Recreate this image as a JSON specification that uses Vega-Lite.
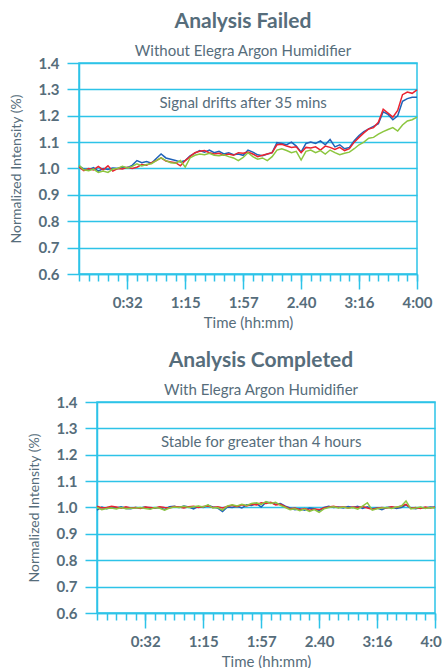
{
  "$schema": "https://vega.github.io/schema/vega-lite/v6.json",
  "padding": {"left": 7, "top": 10, "right": 0, "bottom": 0},
  "background": "white",
  "config": {
    "font": "Lato",
    "view": {"stroke": "#2dc3e8", "strokeWidth": 1.5},
    "title": {"fontSize": 21, "fontWeight": "bold", "color": "#566d7b", "subtitleFontSize": 15, "subtitleColor": "#566d7b", "subtitlePadding": 12, "offset": -3, "anchor": "middle", "dx": -5},
    "axisY": {"values": [0.6,0.7,0.8,0.9,1.0,1.1,1.2,1.3,1.4], "format": ".1f", "grid": true, "gridColor": "#2dc3e8", "gridWidth": 1.5, "tickSize": 12, "tickColor": "#2dc3e8", "tickWidth": 1.5, "domainColor": "#2dc3e8", "domainWidth": 1.5, "labelFontSize": 15, "labelFontWeight": "bold", "labelColor": "#566d7b", "labelPadding": 8, "titleFontSize": 14, "titleFontWeight": "normal", "titleColor": "#566d7b", "titlePadding": 15}
  },
  "datasets": {
    "top": [
      {"t":0,"blue":1.010,"red":1.005,"green":1.012},
      {"t":0.5,"blue":0.998,"red":0.992,"green":0.995},
      {"t":1,"blue":0.995,"red":1.000,"green":0.992},
      {"t":1.5,"blue":1.003,"red":0.995,"green":0.998},
      {"t":2,"blue":0.990,"red":1.008,"green":0.985},
      {"t":2.5,"blue":1.000,"red":0.995,"green":0.990},
      {"t":3,"blue":0.996,"red":1.010,"green":0.985},
      {"t":3.5,"blue":1.002,"red":0.990,"green":0.998},
      {"t":4,"blue":1.000,"red":1.000,"green":1.000},
      {"t":4.5,"blue":1.006,"red":0.998,"green":1.008},
      {"t":5,"blue":1.003,"red":1.005,"green":1.002},
      {"t":5.5,"blue":1.012,"red":1.000,"green":1.008},
      {"t":6,"blue":1.030,"red":1.005,"green":1.018},
      {"t":6.5,"blue":1.022,"red":1.015,"green":1.010},
      {"t":7,"blue":1.026,"red":1.012,"green":1.015},
      {"t":7.5,"blue":1.020,"red":1.022,"green":1.018},
      {"t":8,"blue":1.038,"red":1.030,"green":1.030},
      {"t":8.5,"blue":1.055,"red":1.040,"green":1.040},
      {"t":9,"blue":1.040,"red":1.028,"green":1.030},
      {"t":9.5,"blue":1.035,"red":1.025,"green":1.022},
      {"t":10,"blue":1.030,"red":1.022,"green":1.020},
      {"t":10.5,"blue":1.025,"red":1.010,"green":1.030},
      {"t":11,"blue":1.030,"red":1.030,"green":1.005},
      {"t":11.5,"blue":1.048,"red":1.045,"green":1.040},
      {"t":12,"blue":1.058,"red":1.060,"green":1.050},
      {"t":12.5,"blue":1.068,"red":1.065,"green":1.055},
      {"t":13,"blue":1.062,"red":1.068,"green":1.052},
      {"t":13.5,"blue":1.070,"red":1.060,"green":1.058},
      {"t":14,"blue":1.060,"red":1.055,"green":1.050},
      {"t":14.5,"blue":1.065,"red":1.058,"green":1.048},
      {"t":15,"blue":1.055,"red":1.050,"green":1.052},
      {"t":15.5,"blue":1.060,"red":1.055,"green":1.045},
      {"t":16,"blue":1.052,"red":1.050,"green":1.040},
      {"t":16.5,"blue":1.055,"red":1.060,"green":1.030},
      {"t":17,"blue":1.050,"red":1.058,"green":1.042},
      {"t":17.5,"blue":1.070,"red":1.062,"green":1.060},
      {"t":18,"blue":1.062,"red":1.055,"green":1.045},
      {"t":18.5,"blue":1.052,"red":1.045,"green":1.035},
      {"t":19,"blue":1.048,"red":1.050,"green":1.040},
      {"t":19.5,"blue":1.055,"red":1.055,"green":1.030},
      {"t":20,"blue":1.060,"red":1.060,"green":1.045},
      {"t":20.5,"blue":1.098,"red":1.090,"green":1.070},
      {"t":21,"blue":1.095,"red":1.092,"green":1.075},
      {"t":21.5,"blue":1.090,"red":1.085,"green":1.068},
      {"t":22,"blue":1.100,"red":1.080,"green":1.060},
      {"t":22.5,"blue":1.085,"red":1.082,"green":1.065},
      {"t":23,"blue":1.062,"red":1.060,"green":1.032},
      {"t":23.5,"blue":1.095,"red":1.080,"green":1.065},
      {"t":24,"blue":1.100,"red":1.078,"green":1.070},
      {"t":24.5,"blue":1.095,"red":1.082,"green":1.060},
      {"t":25,"blue":1.105,"red":1.070,"green":1.068},
      {"t":25.5,"blue":1.090,"red":1.085,"green":1.055},
      {"t":26,"blue":1.110,"red":1.080,"green":1.070},
      {"t":26.5,"blue":1.082,"red":1.072,"green":1.060},
      {"t":27,"blue":1.090,"red":1.080,"green":1.052},
      {"t":27.5,"blue":1.075,"red":1.068,"green":1.058},
      {"t":28,"blue":1.080,"red":1.075,"green":1.062},
      {"t":28.5,"blue":1.105,"red":1.100,"green":1.075},
      {"t":29,"blue":1.125,"red":1.118,"green":1.090},
      {"t":29.5,"blue":1.140,"red":1.135,"green":1.100},
      {"t":30,"blue":1.150,"red":1.150,"green":1.115},
      {"t":30.5,"blue":1.160,"red":1.155,"green":1.118},
      {"t":31,"blue":1.170,"red":1.175,"green":1.130},
      {"t":31.5,"blue":1.215,"red":1.225,"green":1.140},
      {"t":32,"blue":1.205,"red":1.210,"green":1.148},
      {"t":32.5,"blue":1.185,"red":1.195,"green":1.155},
      {"t":33,"blue":1.200,"red":1.220,"green":1.142},
      {"t":33.5,"blue":1.255,"red":1.280,"green":1.165},
      {"t":34,"blue":1.265,"red":1.290,"green":1.180},
      {"t":34.5,"blue":1.270,"red":1.285,"green":1.185},
      {"t":35,"blue":1.270,"red":1.298,"green":1.195}
    ],
    "bottom": [
      {"t":0,"blue":0.990,"red":1.005,"green":1.000},
      {"t":0.5,"blue":1.002,"red":0.998,"green":0.992},
      {"t":1,"blue":0.995,"red":1.000,"green":0.996},
      {"t":1.5,"blue":1.000,"red":1.005,"green":0.998},
      {"t":2,"blue":0.998,"red":1.002,"green":0.994},
      {"t":2.5,"blue":1.003,"red":0.997,"green":1.000},
      {"t":3,"blue":0.996,"red":1.003,"green":0.995},
      {"t":3.5,"blue":0.995,"red":0.998,"green":0.997},
      {"t":4,"blue":1.000,"red":1.000,"green":0.998},
      {"t":4.5,"blue":0.998,"red":0.996,"green":1.000},
      {"t":5,"blue":1.002,"red":1.002,"green":0.996},
      {"t":5.5,"blue":0.996,"red":1.000,"green":0.993},
      {"t":6,"blue":0.998,"red":0.998,"green":1.000},
      {"t":6.5,"blue":1.000,"red":1.003,"green":0.997},
      {"t":7,"blue":0.992,"red":1.000,"green":0.990},
      {"t":7.5,"blue":1.003,"red":0.998,"green":0.998},
      {"t":8,"blue":1.005,"red":1.004,"green":1.002},
      {"t":8.5,"blue":1.000,"red":1.002,"green":1.000},
      {"t":9,"blue":1.006,"red":0.998,"green":1.005},
      {"t":9.5,"blue":1.002,"red":1.003,"green":1.000},
      {"t":10,"blue":0.995,"red":1.005,"green":1.003},
      {"t":10.5,"blue":1.004,"red":1.000,"green":1.006},
      {"t":11,"blue":1.000,"red":1.004,"green":1.002},
      {"t":11.5,"blue":1.008,"red":1.006,"green":1.010},
      {"t":12,"blue":1.002,"red":1.000,"green":0.998},
      {"t":12.5,"blue":0.998,"red":1.003,"green":1.000},
      {"t":13,"blue":0.985,"red":0.998,"green":0.990},
      {"t":13.5,"blue":1.002,"red":1.004,"green":1.006},
      {"t":14,"blue":1.000,"red":1.008,"green":1.010},
      {"t":14.5,"blue":1.005,"red":1.003,"green":1.006},
      {"t":15,"blue":0.998,"red":1.010,"green":1.012},
      {"t":15.5,"blue":1.010,"red":1.006,"green":1.008},
      {"t":16,"blue":1.008,"red":1.012,"green":1.015},
      {"t":16.5,"blue":1.015,"red":1.010,"green":1.018},
      {"t":17,"blue":1.002,"red":1.018,"green":1.012},
      {"t":17.5,"blue":1.020,"red":1.015,"green":1.022},
      {"t":18,"blue":1.018,"red":1.020,"green":1.015},
      {"t":18.5,"blue":1.012,"red":1.010,"green":1.020},
      {"t":19,"blue":1.015,"red":1.012,"green":1.008},
      {"t":19.5,"blue":1.005,"red":1.003,"green":1.000},
      {"t":20,"blue":0.998,"red":0.995,"green":0.992},
      {"t":20.5,"blue":0.992,"red":0.998,"green":0.995},
      {"t":21,"blue":0.995,"red":0.992,"green":0.988},
      {"t":21.5,"blue":0.990,"red":0.996,"green":0.994},
      {"t":22,"blue":0.998,"red":0.990,"green":0.985},
      {"t":22.5,"blue":0.995,"red":0.994,"green":0.992},
      {"t":23,"blue":0.988,"red":0.992,"green":0.982},
      {"t":23.5,"blue":1.000,"red":0.998,"green":0.995},
      {"t":24,"blue":1.005,"red":1.002,"green":1.000},
      {"t":24.5,"blue":1.000,"red":1.005,"green":1.003},
      {"t":25,"blue":1.002,"red":1.000,"green":0.998},
      {"t":25.5,"blue":0.998,"red":1.003,"green":1.002},
      {"t":26,"blue":1.004,"red":0.998,"green":0.997},
      {"t":26.5,"blue":1.000,"red":1.002,"green":1.000},
      {"t":27,"blue":1.005,"red":1.000,"green":0.994},
      {"t":27.5,"blue":0.996,"red":1.004,"green":1.005},
      {"t":28,"blue":1.003,"red":0.998,"green":1.018},
      {"t":28.5,"blue":0.995,"red":0.993,"green":0.990},
      {"t":29,"blue":0.998,"red":0.997,"green":0.995},
      {"t":29.5,"blue":0.992,"red":1.000,"green":0.998},
      {"t":30,"blue":1.000,"red":0.998,"green":1.000},
      {"t":30.5,"blue":1.002,"red":1.003,"green":0.996},
      {"t":31,"blue":0.996,"red":1.000,"green":1.002},
      {"t":31.5,"blue":1.000,"red":1.006,"green":1.005},
      {"t":32,"blue":1.010,"red":1.012,"green":1.025},
      {"t":32.5,"blue":0.998,"red":0.997,"green":0.995},
      {"t":33,"blue":0.995,"red":1.000,"green":0.998},
      {"t":33.5,"blue":1.000,"red":0.996,"green":1.002},
      {"t":34,"blue":0.997,"red":1.002,"green":0.996},
      {"t":34.5,"blue":1.002,"red":0.998,"green":1.000},
      {"t":35,"blue":1.000,"red":1.002,"green":0.998}
    ]
  },
  "align": "none",
  "spacing": 18,
  "vconcat": [
    {
      "spacing": 0,
      "align": "none",
      "hconcat": [
        {
          "width": 1,
          "height": 211,
          "view": {"stroke": null},
          "data": {"values": [{}]},
          "mark": {"type": "text", "opacity": 0},
          "encoding": {}
        },
        {
          "title": {"text": "Analysis Failed", "subtitle": "Without Elegra Argon Humidifier"},
          "width": 338,
          "height": 211,
          "resolve": {"axis": {"x": "independent"}},
          "layer": [
            {
              "data": {"name": "top"},
              "transform": [{"fold": ["blue", "red", "green"], "as": ["series", "value"]}],
              "mark": {"type": "line", "strokeWidth": 1.5},
              "encoding": {
                "x": {"field": "t", "type": "quantitative", "scale": {"domain": [0, 35], "nice": false, "zero": false},
                  "axis": {"orient": "bottom", "values": [0,1,2,3,4,5,6,7,8,9,10,11,12,13,14,15,16,17,18,19,20,21,22,23,24,25,26,27,28,29,30,31,32,33,34,35], "labels": false, "tickSize": 7, "tickColor": "#2dc3e8", "tickWidth": 1.5, "domain": false, "grid": false, "title": null}},
                "y": {"field": "value", "type": "quantitative", "scale": {"domain": [0.6, 1.4], "nice": false, "zero": false},
                  "axis": {"title": "Normalized Intensity (%)"}},
                "color": {"field": "series", "type": "nominal", "scale": {"domain": ["blue", "red", "green"], "range": ["#1f63b8", "#ea2330", "#8cc63f"]}, "legend": null}
              }
            },
            {
              "data": {"values": [{"t": 17, "value": 1.25, "label": "Signal drifts after 35 mins"}]},
              "mark": {"type": "text", "fontSize": 15, "color": "#566d7b"},
              "encoding": {
                "x": {"field": "t", "type": "quantitative",
                  "axis": {"orient": "bottom", "values": [5, 11, 17, 23, 29, 35], "tickSize": 15, "tickColor": "#2dc3e8", "tickWidth": 1.5, "domainColor": "#2dc3e8", "domainWidth": 1.5, "grid": false, "labelFlush": false, "labelOverlap": false, "labelExpr": "datum.value == 5 ? '0:32' : datum.value == 11 ? '1:15' : datum.value == 17 ? '1:57' : datum.value == 23 ? '2.40' : datum.value == 29 ? '3:16' : '4:00'", "labelFontSize": 15, "labelFontWeight": "bold", "labelColor": "#566d7b", "labelPadding": 6, "title": "Time (hh:mm)", "titleFontSize": 15, "titleFontWeight": "normal", "titleColor": "#566d7b", "titlePadding": 5}},
                "y": {"field": "value", "type": "quantitative", "axis": {"title": "Normalized Intensity (%)"}},
                "text": {"field": "label"}
              }
            }
          ]
        }
      ]
    },
    {
      "spacing": 0,
      "align": "none",
      "hconcat": [
        {
          "width": 19,
          "height": 211,
          "view": {"stroke": null},
          "data": {"values": [{}]},
          "mark": {"type": "text", "opacity": 0},
          "encoding": {}
        },
        {
          "title": {"text": "Analysis Completed", "subtitle": "With Elegra Argon Humidifier"},
          "width": 338,
          "height": 211,
          "resolve": {"axis": {"x": "independent"}},
          "layer": [
            {
              "data": {"name": "bottom"},
              "transform": [{"fold": ["blue", "red", "green"], "as": ["series", "value"]}],
              "mark": {"type": "line", "strokeWidth": 1.5},
              "encoding": {
                "x": {"field": "t", "type": "quantitative", "scale": {"domain": [0, 35], "nice": false, "zero": false},
                  "axis": {"orient": "bottom", "values": [0,1,2,3,4,5,6,7,8,9,10,11,12,13,14,15,16,17,18,19,20,21,22,23,24,25,26,27,28,29,30,31,32,33,34,35], "labels": false, "tickSize": 7, "tickColor": "#2dc3e8", "tickWidth": 1.5, "domain": false, "grid": false, "title": null}},
                "y": {"field": "value", "type": "quantitative", "scale": {"domain": [0.6, 1.4], "nice": false, "zero": false},
                  "axis": {"title": "Normalized Intensity (%)"}},
                "color": {"field": "series", "type": "nominal", "scale": {"domain": ["blue", "red", "green"], "range": ["#1f63b8", "#ea2330", "#8cc63f"]}, "legend": null}
              }
            },
            {
              "data": {"values": [{"t": 17, "value": 1.25, "label": "Stable for greater than 4 hours"}]},
              "mark": {"type": "text", "fontSize": 15, "color": "#566d7b"},
              "encoding": {
                "x": {"field": "t", "type": "quantitative",
                  "axis": {"orient": "bottom", "values": [5, 11, 17, 23, 29, 35], "tickSize": 15, "tickColor": "#2dc3e8", "tickWidth": 1.5, "domainColor": "#2dc3e8", "domainWidth": 1.5, "grid": false, "labelFlush": false, "labelOverlap": false, "labelExpr": "datum.value == 5 ? '0:32' : datum.value == 11 ? '1:15' : datum.value == 17 ? '1:57' : datum.value == 23 ? '2.40' : datum.value == 29 ? '3:16' : '4:00'", "labelFontSize": 15, "labelFontWeight": "bold", "labelColor": "#566d7b", "labelPadding": 6, "title": "Time (hh:mm)", "titleFontSize": 15, "titleFontWeight": "normal", "titleColor": "#566d7b", "titlePadding": 5}},
                "y": {"field": "value", "type": "quantitative", "axis": {"title": "Normalized Intensity (%)"}},
                "text": {"field": "label"}
              }
            }
          ]
        }
      ]
    }
  ]
}
